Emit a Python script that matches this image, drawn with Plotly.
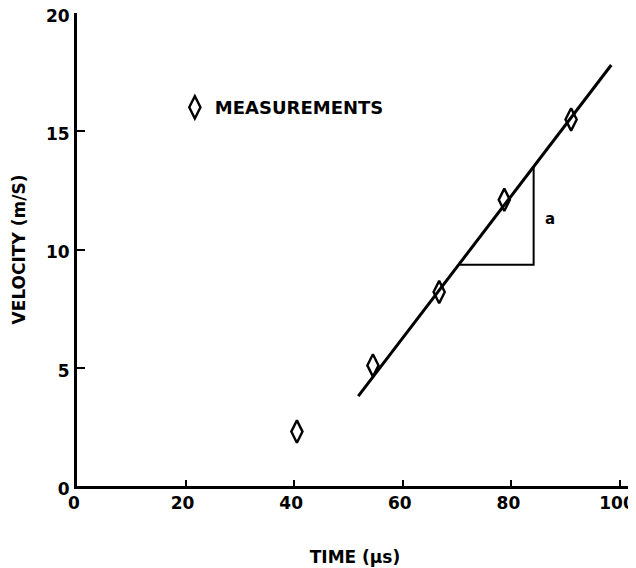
import plotly.graph_objects as go

# measured data
time_us = [40.5, 54.5, 66.7, 78.7, 91.0]
velocity = [2.3, 5.1, 8.2, 12.1, 15.5]

# fitted line end points
fit_x = [51.8, 98.4]
fit_y = [3.8, 17.8]

# slope triangle
tri_x = [70.5, 84.1, 84.1]
tri_y = [9.35, 9.35, 13.5]

x_ticks = [0, 20, 40, 60, 80, 100]
y_ticks = [0, 5, 10, 15, 20]

FONT = dict(family="DejaVu Sans", size=17, color="black", weight="bold")

fig = go.Figure()
fig.add_trace(go.Scatter(x=fit_x, y=fit_y, mode="lines",
                         line=dict(color="black", width=3), showlegend=False))
fig.add_trace(go.Scatter(x=tri_x, y=tri_y, mode="lines",
                         line=dict(color="black", width=2), showlegend=False))
fig.add_trace(go.Scatter(x=time_us, y=velocity, mode="markers", name="MEASUREMENTS",
                         marker=dict(symbol="diamond-tall-open", size=16,
                                     color="black", line=dict(width=2.4, color="black"))))

fig.add_annotation(x=87.2, y=11.3, text="a", showarrow=False,
                   font=dict(family="DejaVu Sans", size=15, color="black", weight="bold"))

fig.update_layout(
    width=636, height=568,
    margin=dict(l=69, r=11, t=5, b=90, autoexpand=False),
    paper_bgcolor="white", plot_bgcolor="white",
    font=FONT,
    showlegend=True,
    legend=dict(x=0.176, y=0.80, xanchor="left", yanchor="middle",
                bgcolor="rgba(0,0,0,0)",
                font=dict(family="DejaVu Sans", size=18, color="black", weight="bold"),
                itemwidth=30),
    xaxis=dict(range=[0, 102.4], tickvals=x_ticks, ticktext=[str(v) for v in x_ticks],
               showgrid=False, zeroline=False, showline=True, linecolor="black", linewidth=3,
               ticks="inside", ticklen=6, tickwidth=2, tickcolor="black",
               ticklabelstandoff=0, ticklabelshift=-3, ticklabeloverflow="allow",
               automargin=False,
               title=dict(text="TIME (μs)", font=FONT, standoff=39)),
    yaxis=dict(range=[0, 20], tickvals=y_ticks, ticktext=[str(v) for v in y_ticks],
               showgrid=False, zeroline=False, showline=True, linecolor="black", linewidth=3,
               ticks="inside", ticklen=8, tickwidth=2, tickcolor="black",
               ticklabelstandoff=1, ticklabelshift=3, ticklabeloverflow="allow",
               automargin=False,
               title=dict(text="VELOCITY (m/S)", font=FONT, standoff=16)),
)

fig.write_html("out.html")
